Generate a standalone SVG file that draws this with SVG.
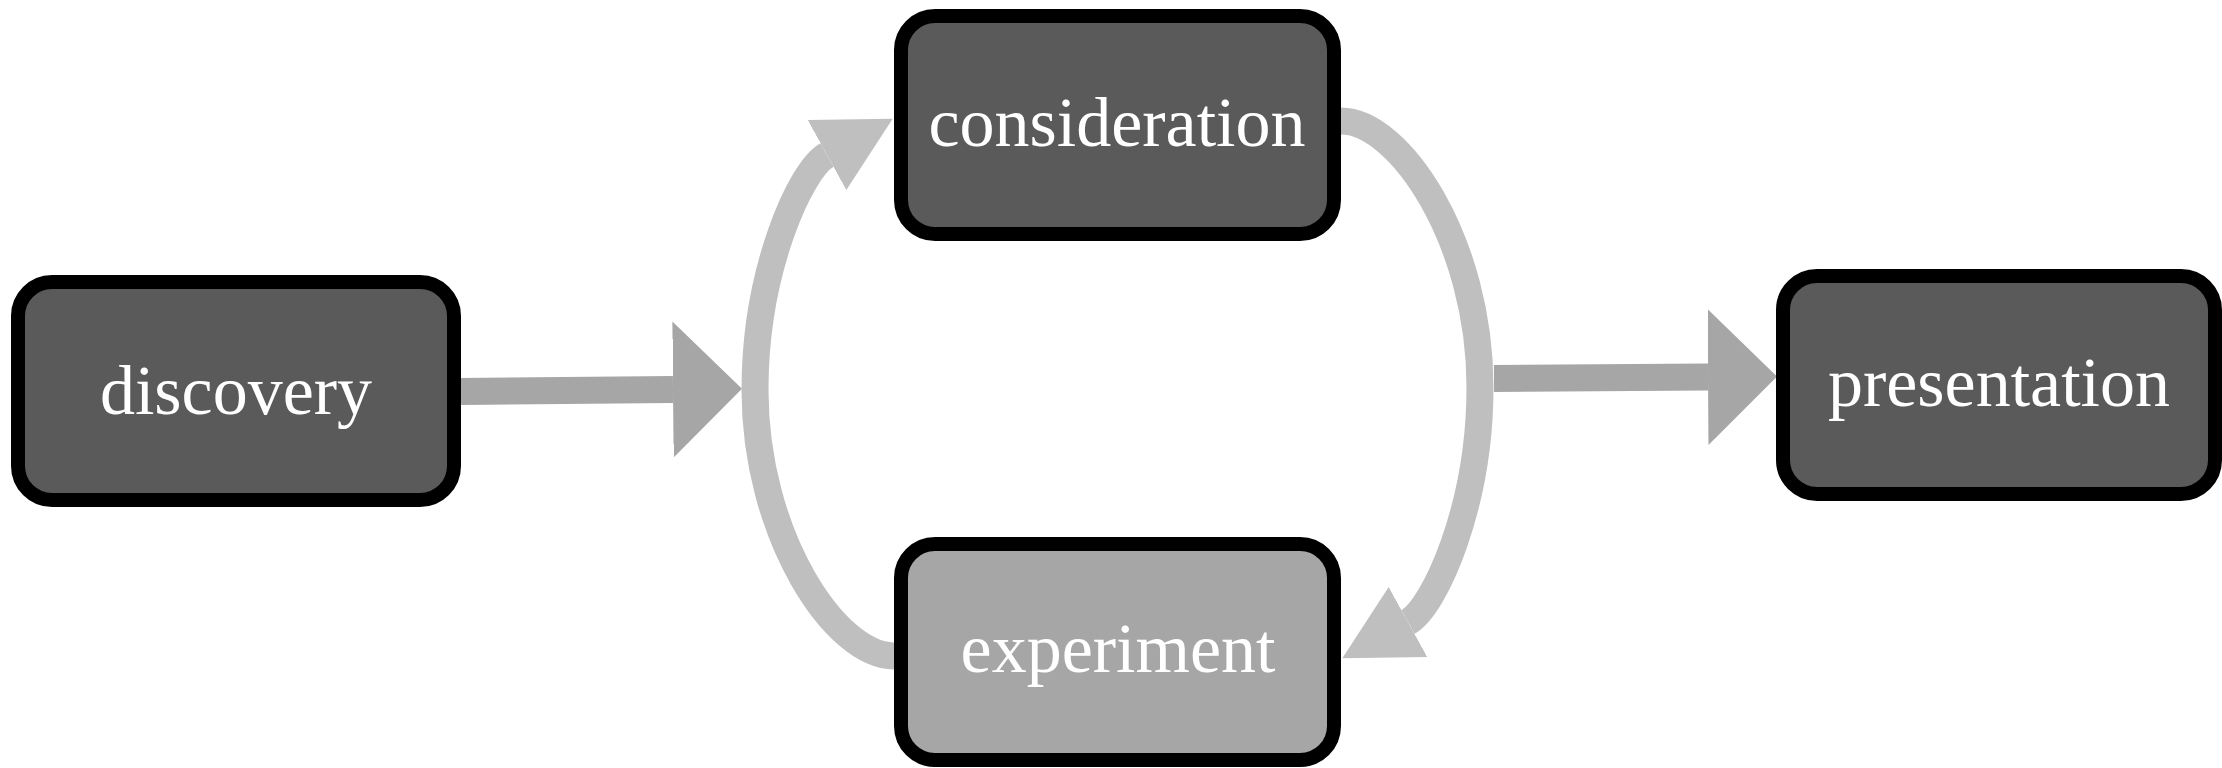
<svg xmlns="http://www.w3.org/2000/svg" width="2222" height="768" viewBox="0 0 2222 768">
  <style>
    .box { stroke: #000000; stroke-width: 14; }
    .dark { fill: #5a5a5a; }
    .light { fill: #a6a6a6; }
    .label { font-family: "Liberation Serif", "Times New Roman", serif; font-size: 70px; fill: #ffffff; text-anchor: middle; }
    .straight { fill: none; stroke: #a6a6a6; stroke-width: 27; stroke-linecap: butt; }
    .curve { fill: none; stroke: #bfbfbf; stroke-width: 27; stroke-linecap: butt; }
  </style>
  <defs>
    <marker id="headStraight" markerUnits="userSpaceOnUse" viewBox="0 0 72 136" markerWidth="72" markerHeight="136" refX="0" refY="68" orient="auto">
      <path d="M0 0 L69 68 L0 136 Z" fill="#a6a6a6"/>
    </marker>
    <marker id="headCurve" markerUnits="userSpaceOnUse" viewBox="0 0 76 82" markerWidth="76" markerHeight="82" refX="0" refY="41" orient="auto">
      <path d="M0 1 L75 41 L0 81 Z" fill="#bfbfbf"/>
    </marker>
  </defs>

  <g id="connectors">
    <path class="straight" d="M461 391.5 L673 389.5" marker-end="url(#headStraight)"/>
    <path class="straight" d="M1494 378.5 L1708 377" marker-end="url(#headStraight)"/>
    <path class="curve" d="M894 656 C835 656 755 535 755 390 C755 270 800.7 169.5 827 155" marker-end="url(#headCurve)"/>
    <path class="curve" d="M1341 121 C1400 121 1480 242 1480 387 C1480 507 1434.3 607.5 1408 622" marker-end="url(#headCurve)"/>
  </g>

  <g id="node-discovery">
    <rect class="box dark" x="18" y="282" width="436" height="218" rx="34" ry="34"/>
    <text class="label" x="236" y="414">discovery</text>
  </g>
  <g id="node-consideration">
    <rect class="box dark" x="901" y="16" width="433" height="218" rx="34" ry="34"/>
    <text class="label" x="1117" y="146">consideration</text>
  </g>
  <g id="node-experiment">
    <rect class="box light" x="901" y="544" width="433" height="216" rx="34" ry="34"/>
    <text class="label" x="1118" y="672">experiment</text>
  </g>
  <g id="node-presentation">
    <rect class="box dark" x="1783" y="276" width="432" height="218" rx="34" ry="34"/>
    <text class="label" x="1999" y="406">presentation</text>
  </g>
</svg>
